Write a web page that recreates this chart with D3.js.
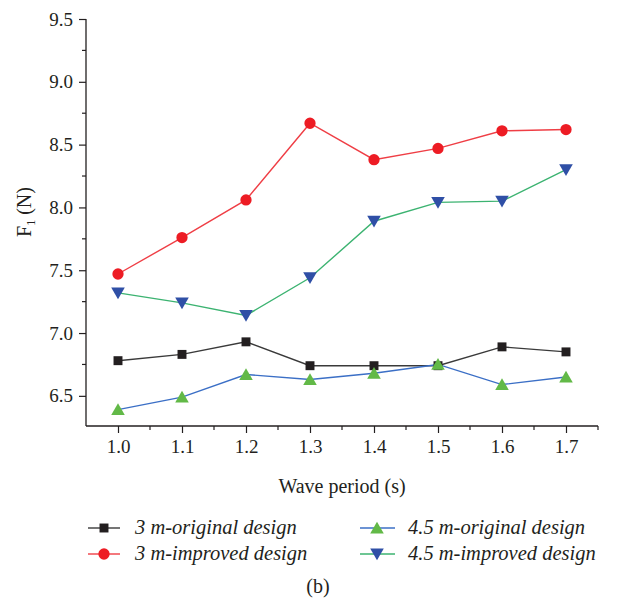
<!DOCTYPE html>
<html>
<head>
<meta charset="utf-8">
<script src="https://cdn.jsdelivr.net/npm/d3@7/dist/d3.min.js"></script>
<style>
  html, body { margin: 0; padding: 0; background: #fff; }
  svg { display: block; }
  text { font-family: "Liberation Serif", "DejaVu Serif", serif; fill: #231f20; }
</style>
</head>
<body>
<script>
// Wave periods (s)
const periods = [1.0, 1.1, 1.2, 1.3, 1.4, 1.5, 1.6, 1.7];

// Force F1 (N) for each design
const orig3 = [6.78, 6.83, 6.93, 6.74, 6.74, 6.74, 6.89, 6.85];
const impr3 = [7.47, 7.76, 8.06, 8.67, 8.38, 8.47, 8.61, 8.62];
const orig45 = [6.39, 6.49, 6.67, 6.63, 6.68, 6.75, 6.59, 6.65];
const impr45 = [7.32, 7.24, 7.14, 7.44, 7.89, 8.04, 8.05, 8.30];

const seriesNames = ["3 m-original design", "3 m-improved design", "4.5 m-original design", "4.5 m-improved design"];

const xTicks = [1.0, 1.1, 1.2, 1.3, 1.4, 1.5, 1.6, 1.7];
const yTicks = [6.5, 7.0, 7.5, 8.0, 8.5, 9.0, 9.5];

const W = 638, H = 607;
const svg = d3.select("body").append("svg").attr("width", W).attr("height", H);

const x = d3.scaleLinear().domain([0.95, 1.75]).range([86, 598]);
const y = d3.scaleLinear().domain([6.26, 9.5]).range([426, 19]);

const series = [
  { name: seriesNames[0], values: orig3,  line: "#3a3a3a", fill: "#231f20", sym: d3.symbolSquare,   size: 80, rot: 0 },
  { name: seriesNames[1], values: impr3,  line: "#ef3e45", fill: "#ed1c24", sym: d3.symbolCircle,   size: 100, rot: 0 },
  { name: seriesNames[2], values: orig45, line: "#3b6fc6", fill: "#62b947", sym: d3.symbolTriangle, size: 80, rot: 0 },
  { name: seriesNames[3], values: impr45, line: "#3cb371", fill: "#2f4fa6", sym: d3.symbolTriangle, size: 80, rot: 180 }
];

// Axes
const axisColor = "#231f20";
const xAxis = d3.axisBottom(x).tickValues(xTicks).tickFormat(d3.format(".1f")).tickSize(7).tickPadding(7);
const gx = svg.append("g").attr("transform", "translate(0,426)").call(xAxis);
const yAxis = d3.axisLeft(y).tickValues(yTicks).tickFormat(d3.format(".1f")).tickSize(7).tickPadding(6);
const gy = svg.append("g").attr("transform", "translate(86,0)").call(yAxis);

[gx, gy].forEach(g => {
  g.select(".domain").attr("stroke", axisColor).attr("stroke-width", 1.3);
  g.selectAll(".tick line").attr("stroke", axisColor).attr("stroke-width", 1.2);
  g.selectAll(".tick text").attr("font-size", 19).attr("font-family", "Liberation Serif").attr("fill", axisColor);
});
gx.select(".domain").attr("d", `M${x(0.95)},0H${x(1.75)}`);
gy.select(".domain").attr("d", `M0,${y(6.26)}V${y(9.5)}`);

// Minor ticks
const xMinor = [1.05, 1.15, 1.25, 1.35, 1.45, 1.55, 1.65, 1.75];
svg.append("g").selectAll("line").data(xMinor).join("line")
  .attr("x1", d => x(d)).attr("x2", d => x(d))
  .attr("y1", 426).attr("y2", 430)
  .attr("stroke", axisColor).attr("stroke-width", 1.2);
const yMinor = [6.75, 7.25, 7.75, 8.25, 8.75, 9.25];
svg.append("g").selectAll("line").data(yMinor).join("line")
  .attr("x1", 82).attr("x2", 86)
  .attr("y1", d => y(d)).attr("y2", d => y(d))
  .attr("stroke", axisColor).attr("stroke-width", 1.2);

// Axis titles
svg.append("text").attr("x", 342).attr("y", 493).attr("text-anchor", "middle")
  .attr("font-size", 20).text("Wave period (s)");
const yl = svg.append("text").attr("transform", "translate(31,212) rotate(-90)")
  .attr("text-anchor", "middle").attr("font-size", 20);
yl.append("tspan").text("F");
yl.append("tspan").attr("font-size", 12).attr("dy", 4).text("1");
yl.append("tspan").attr("dy", -4).text(" (N)");

// Lines and markers
const line = d3.line().x((d, i) => x(periods[i])).y(d => y(d));
series.forEach(s => {
  svg.append("path").datum(s.values).attr("d", line)
    .attr("fill", "none").attr("stroke", s.line).attr("stroke-width", 1.4);
});
series.forEach(s => {
  svg.append("g").selectAll("path").data(s.values).join("path")
    .attr("d", d3.symbol().type(s.sym).size(s.size))
    .attr("transform", (d, i) => `translate(${x(periods[i])},${y(d) + (s.sym === d3.symbolTriangle ? (s.rot ? -1.5 : 1.5) : 0)}) rotate(${s.rot})`)
    .attr("fill", s.fill);
});

// Legend
const legendPos = [
  { lx: 88, ly: 528 }, { lx: 88, ly: 554 }, { lx: 360, ly: 528 }, { lx: 360, ly: 554 }
];
series.forEach((s, i) => {
  const p = legendPos[i];
  const lineEnd = i < 2 ? 120 : 395;
  const mx = i < 2 ? 104 : 377;
  const g = svg.append("g");
  g.append("line").attr("x1", p.lx).attr("x2", lineEnd).attr("y1", p.ly).attr("y2", p.ly)
    .attr("stroke", s.line).attr("stroke-width", 1.4);
  g.append("path").attr("d", d3.symbol().type(s.sym).size(s.size))
    .attr("transform", `translate(${mx},${p.ly + (s.sym === d3.symbolTriangle ? (s.rot ? -1.5 : 1.5) : 0)}) rotate(${s.rot})`)
    .attr("fill", s.fill);
  g.append("text").attr("x", i < 2 ? 135 : 408).attr("y", p.ly + 6)
    .attr("font-size", 20.5).attr("font-style", "italic").text(s.name);
});

svg.append("text").attr("x", 318).attr("y", 593).attr("text-anchor", "middle")
  .attr("font-size", 20).text("(b)");
</script>
</body>
</html>
